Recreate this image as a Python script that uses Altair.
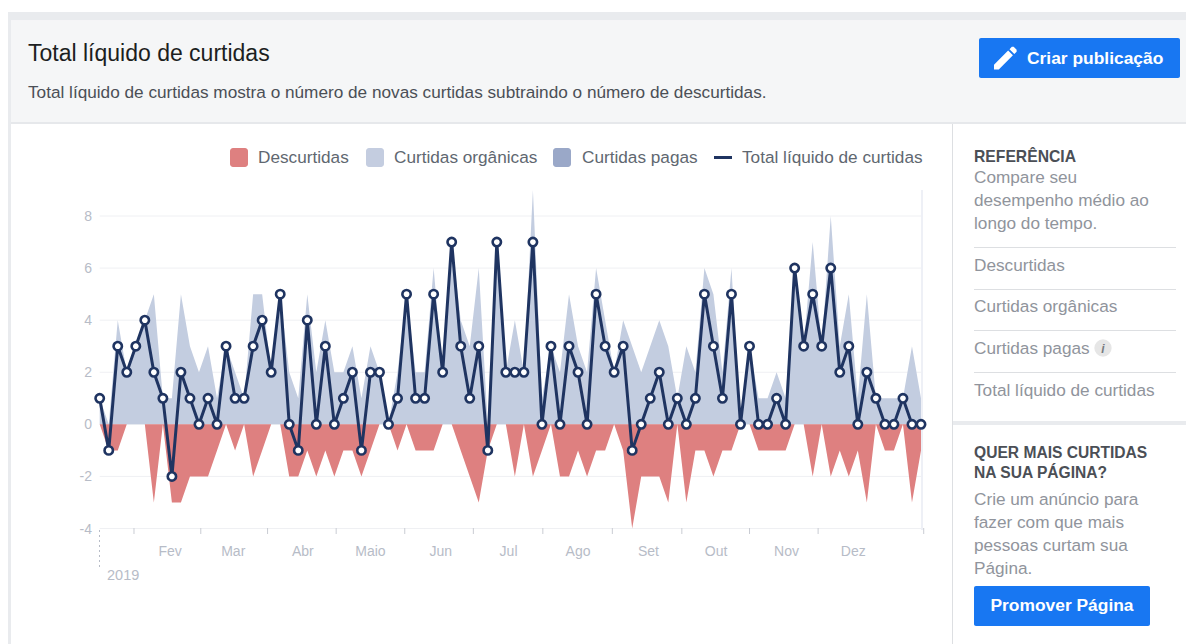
import altair as alt
import pandas as pd

# ---------- data ----------
net = [1,-1,3,2,3,4,2,1,-2,2,1,0,1,0,3,1,1,3,4,2,5,0,-1,4,0,3,0,1,2,-1,2,2,
       0,1,5,1,1,5,2,7,3,1,3,-1,7,2,2,2,7,0,3,0,3,2,0,5,3,2,3,-1,0,1,2,
       0,1,0,1,5,3,1,5,0,3,0,0,1,0,6,3,5,3,6,2,3,0,2,1,0,0,1,0,0]
likes = [1,0,4,2,3,4,5,1,1,5,3,2,3,1,3,2,1,5,5,2,5,2,1,5,2,4,2,2,3,1,3,2,
         0,2,5,2,2,6,2,7,4,3,6,0,7,2,4,2,9,1,3,2,5,3,2,6,4,2,4,3,2,3,4,
         3,1,3,2,6,5,2,6,0,3,1,1,2,1,6,3,7,3,8,3,5,1,5,1,1,1,1,3,1]
unlikes = [0,-1,-1,0,0,0,-3,0,-3,-3,-2,-2,-2,-1,0,-1,0,-2,-1,0,0,-2,-2,-1,-2,-1,-2,-1,-1,-2,-1,0,
           0,-1,0,-1,-1,-1,0,0,-1,-2,-3,-1,0,0,-2,0,-2,-1,0,-2,-2,-1,-2,-1,-1,0,-1,-4,-2,-2,-2,
           -3,0,-3,-1,-1,-2,-1,-1,0,0,-1,-1,-1,-1,0,0,-2,0,-2,-1,-2,-1,-3,0,-1,-1,0,-3,-1]
idx = list(range(len(net)))
y_ticks = [8, 6, 4, 2, 0, -2, -4]
y_labels = ["8", "6", "4", "2", "0", "-2", "-4"]
month_ticks = [3.8, 11.2, 18.6, 26.2, 33.8, 41.4, 49.1, 56.8, 64.5, 72.0, 79.6, 91.3]
month_names = ["Fev", "Mar", "Abr", "Maio", "Jun", "Jul", "Ago", "Set", "Out", "Nov", "Dez"]
month_centers = [7.8, 14.8, 22.5, 30.0, 37.8, 45.3, 53.0, 60.8, 68.3, 76.1, 83.5]

df = pd.DataFrame({"i": idx, "net": net, "likes": likes, "unlikes": unlikes})
df_y = pd.DataFrame({"v": y_ticks, "label": y_labels})
df_mt = pd.DataFrame({"t": month_ticks})
df_ml = pd.DataFrame({"c": month_centers, "m": month_names})

OFF = 8
FONT = "Liberation Sans"
W, H = 1178, 636
NAVY = "#1f3461"
BLUE = "#1877f2"
xs = alt.Scale(domain=[0, 91], range=[99.7 - OFF, 921 - OFF])
ys = alt.Scale(domain=[-4, 8], range=[528.5 - OFF, 216 - OFF])
X = alt.X("i:Q", scale=xs, axis=None)
base = alt.Chart(alt.Data(values=[{}]))


def rect(x0, y0, x1, y1, color, radius=0):
    return base.mark_rect(color=color, cornerRadius=radius, opacity=1).encode(
        x=alt.value(x0 - OFF), x2=alt.value(x1 - OFF),
        y=alt.value(y0 - OFF), y2=alt.value(y1 - OFF))


def txt(s, x, y, size=14, color="#606770", weight="normal", align="left", font=FONT, style="normal"):
    return base.mark_text(text=s, font=font, fontSize=size, color=color, fontWeight=weight,
                          fontStyle=style, align=align, baseline="middle", dy=1).encode(
        x=alt.value(x - OFF), y=alt.value(y - OFF))


layers = [
    rect(8, 12, 1194, 20.5, "#e9ebee"),
    rect(11, 20.5, 1194, 122, "#f5f6f7"),
    rect(8, 20, 11, 644, "#e9ebee"),
    rect(11, 122, 1194, 124, "#e6e8eb"),
    rect(952, 124, 953, 644, "#dddfe2"),
    rect(953, 421, 1194, 425, "#e9ebee"),
    rect(979, 38, 1180, 78, BLUE, 2),
    rect(974, 586, 1150, 626, BLUE, 2),
]
for yy in [247, 289, 330, 372]:
    layers.append(rect(974, yy, 1176, yy + 1, "#dddfe2"))

# pencil icon
pencil = ("M-1 0.583L-1 1L-0.583 1L0.646 -0.229L0.229 -0.646Z"
          "M0.968 -0.551L0.968 -0.708L0.708 -0.968L0.551 -0.968L0.348 -0.764L0.764 -0.347Z")
layers.append(base.mark_point(shape=pencil, filled=True, fill="white", stroke=None, size=529, opacity=1).encode(
    x=alt.value(1005.5 - OFF), y=alt.value(58 - OFF)))

GREY = "#90949c"
# header and side texts
layers += [
    txt("Total líquido de curtidas", 28, 53, 23, "#1c1e21"),
    txt("Total líquido de curtidas mostra o número de novas curtidas subtraindo o número de descurtidas.", 28, 92, 17.2, "#4b4f56"),
    txt("Criar publicação", 1027, 58, 17.4, "white", "bold"),
    txt("REFERÊNCIA", 974, 156, 15.7, "#4b4f56", "bold"),
    txt("Compare seu", 974, 177, 17.2, GREY),
    txt("desempenho médio ao", 974, 200, 17.2, GREY),
    txt("longo do tempo.", 974, 223, 17.2, GREY),
    txt("Descurtidas", 974, 265, 17.2, GREY),
    txt("Curtidas orgânicas", 974, 306, 17.2, GREY),
    txt("Curtidas pagas", 974, 348, 17.2, GREY),
    base.mark_point(filled=True, color="#e6e6e6", size=300, opacity=1).encode(x=alt.value(1103 - OFF), y=alt.value(348 - OFF)),
    txt("i", 1103, 348, 12, "#777a80", "bold", "center", style="italic"),
    txt("Total líquido de curtidas", 974, 390, 17.2, GREY),
    txt("QUER MAIS CURTIDAS", 974, 452, 15.6, "#4b4f56", "bold"),
    txt("NA SUA PÁGINA?", 974, 472, 15.6, "#4b4f56", "bold"),
    txt("Crie um anúncio para", 974, 499, 17.2, GREY),
    txt("fazer com que mais", 974, 522, 17.2, GREY),
    txt("pessoas curtam sua", 974, 545, 17.2, GREY),
    txt("Página.", 974, 568, 17.2, GREY),
    txt("Promover Página", 1062, 605, 17.4, "white", "bold", "center"),
]

# legend
legend = [("Descurtidas", 230, 258, "#de8080"), ("Curtidas orgânicas", 366, 394, "#c4cde0"), ("Curtidas pagas", 553, 582, "#9aa8c8")]
for name, sx, tx, col in legend:
    layers.append(rect(sx, 148, sx + 18, 167, col, 3))
    layers.append(txt(name, tx, 157, 17.2, "#606770"))
layers.append(rect(714, 156, 732, 159, NAVY))
layers.append(txt("Total líquido de curtidas", 742, 157, 17.2, "#606770"))

# grid, right edge, axes
layers.append(alt.Chart(df_y).mark_rule(color="#eff0f3", strokeWidth=1).encode(
    y=alt.Y("v:Q", scale=ys, axis=None), x=alt.value(99.7 - OFF), x2=alt.value(921 - OFF)))
layers.append(rect(921, 190, 923, 530, "#eef0f6"))
layers.append(alt.Chart(df_y).mark_text(font=FONT, fontSize=14, color="#b7bcc7", align="right", baseline="middle", dy=1).encode(
    y=alt.Y("v:Q", scale=ys, axis=None), x=alt.value(92 - OFF), text="label:N"))
layers.append(alt.Chart(df_mt).mark_rule(color="#c9ccd3", strokeWidth=1).encode(
    x=alt.X("t:Q", scale=xs, axis=None), y=alt.value(528 - OFF), y2=alt.value(534 - OFF)))
layers.append(alt.Chart(df_ml).mark_text(font=FONT, fontSize=14, color="#b7bcc7", align="center", baseline="middle", dy=1).encode(
    x=alt.X("c:Q", scale=xs, axis=None), y=alt.value(551 - OFF), text="m:N"))
layers.append(base.mark_rule(color="#b7bcc7", strokeWidth=1, strokeDash=[2, 3]).encode(
    x=alt.value(99.5 - OFF), y=alt.value(530 - OFF), y2=alt.value(568 - OFF)))
layers.append(txt("2019", 107, 575, 14.5, "#b7bcc7"))

# data marks
layers += [
    alt.Chart(df).mark_area(color="#c3cde0", opacity=1, line=False).encode(
        x=X, y=alt.Y("likes:Q", scale=ys, axis=None, stack=None), y2=alt.datum(0)),
    alt.Chart(df).mark_area(color="#de8080", opacity=1, line=False).encode(
        x=X, y=alt.Y("unlikes:Q", scale=ys, axis=None, stack=None), y2=alt.datum(0)),
    alt.Chart(df).mark_line(color=NAVY, strokeWidth=3).encode(
        x=X, y=alt.Y("net:Q", scale=ys, axis=None)),
    alt.Chart(df).mark_point(filled=True, fill="white", stroke=NAVY, strokeWidth=2.6, size=70, opacity=1).encode(
        x=X, y=alt.Y("net:Q", scale=ys, axis=None)),
]

chart = alt.layer(*layers).properties(
    width=W, height=H, padding=0, background="white",
    autosize=alt.AutoSizeParams(type="none"),
).configure_view(stroke=None)

chart.save("out.html", embed_options={"renderer": "svg", "actions": False})
